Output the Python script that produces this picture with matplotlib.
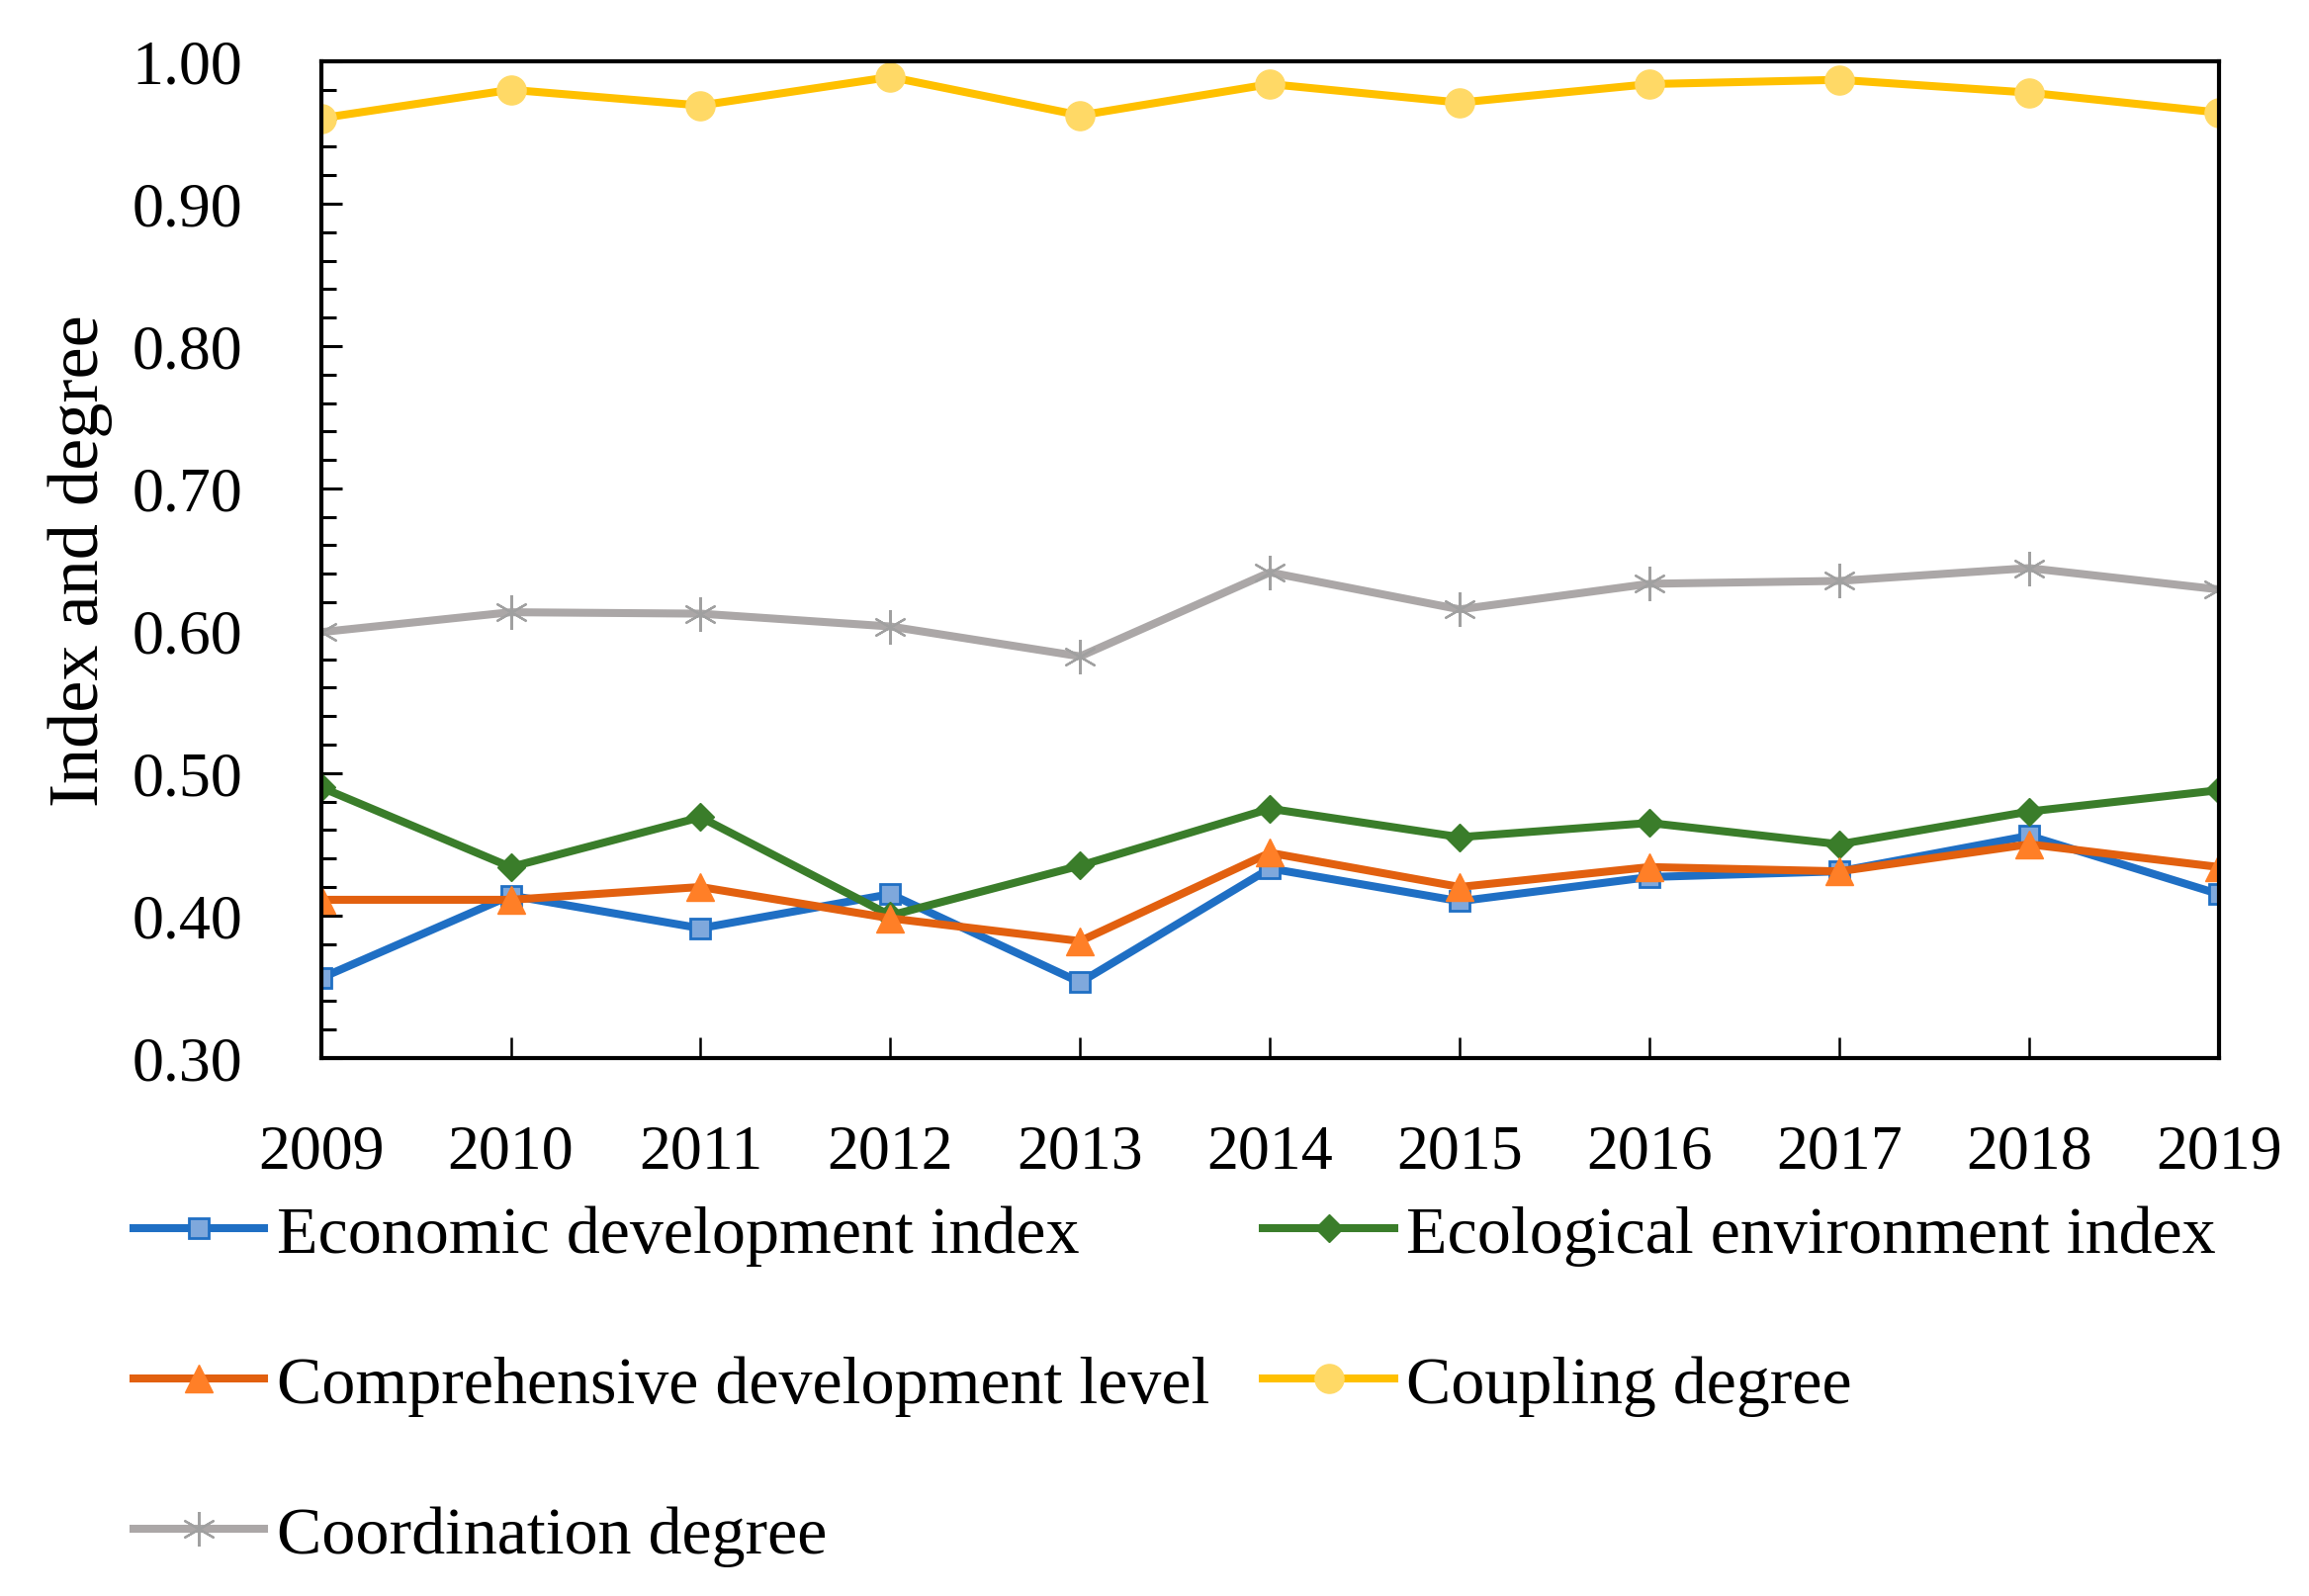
import matplotlib.pyplot as plt
import numpy as np

plt.rcParams['font.family'] = ['Liberation Serif', 'DejaVu Serif']

# Data
years = [2009, 2010, 2011, 2012, 2013, 2014, 2015, 2016, 2017, 2018, 2019]
economic = [0.356, 0.414, 0.391, 0.415, 0.353, 0.433, 0.410, 0.427, 0.431, 0.456, 0.415]
ecological = [0.490, 0.434, 0.469, 0.400, 0.435, 0.475, 0.455, 0.465, 0.450, 0.473, 0.488]
comprehensive = [0.411, 0.411, 0.420, 0.398, 0.382, 0.444, 0.420, 0.434, 0.431, 0.450, 0.434]
coupling = [0.960, 0.980, 0.969, 0.989, 0.962, 0.984, 0.971, 0.984, 0.987, 0.978, 0.964]
coordination = [0.599, 0.613, 0.612, 0.603, 0.582, 0.641, 0.615, 0.633, 0.635, 0.644, 0.629]

fig = plt.figure(figsize=(23.35, 16.15), dpi=100)
ax = fig.add_axes([0.139, 0.337, 0.822, 0.624])

lw = 5.8
l_eco, = ax.plot(years, economic, color='#1f6fc4', lw=lw, marker='s', ms=15,
                 mfc='#7fa8dc', mec='#1f6fc4', mew=2, label='Economic development index')
l_env, = ax.plot(years, ecological, color='#3a7d2a', lw=lw, marker='D', ms=14,
                 mfc='#3a7d2a', mec='#3a7d2a', label='Ecological environment index')
l_com, = ax.plot(years, comprehensive, color='#e2600f', lw=lw, marker='^', ms=20,
                 mfc='#ff7f27', mec='#ff7f27', label='Comprehensive development level')
l_cpl, = ax.plot(years, coupling, color='#ffc000', lw=lw, marker='o', ms=21,
                 mfc='#ffd966', mec='#ffd966', label='Coupling degree')
l_crd, = ax.plot(years, coordination, color='#aba7a7', lw=lw, marker=(6, 2, 0), ms=25,
                 mec='#a0a0a0', mew=1.6, label='Coordination degree')

ax.set_xlim(2009, 2019)
ax.set_ylim(0.30, 1.00)
ax.set_xticks(years)
ax.set_yticks(np.arange(0.30, 1.001, 0.10))
ax.set_yticks(np.arange(0.30, 1.001, 0.02), minor=True)
ax.yaxis.set_major_formatter(plt.FormatStrFormatter('%.2f'))

ax.tick_params(axis='x', direction='in', length=15, width=1.8, labelsize=46, pad=48)
ax.tick_params(axis='y', which='major', direction='in', length=15, width=2.2,
               labelsize=46, pad=57)
ax.tick_params(axis='y', which='minor', direction='in', length=11, width=2.2)
ax.tick_params(axis='x', which='minor', bottom=False)
for s in ax.spines.values():
    s.set_linewidth(3)

ax.set_ylabel('Index and degree', fontsize=52, labelpad=14)

# row-major order: matplotlib fills legend columns first
handles = [l_eco, l_com, l_crd, l_env, l_cpl]
fig.legend(handles=handles, labels=[h.get_label() for h in handles],
           loc='upper left', bbox_to_anchor=(0.046, 0.262), ncol=2, frameon=False,
           fontsize=49, handlelength=1.95, handletextpad=0.18, labelspacing=1.33,
           columnspacing=0.8, borderaxespad=0)

fig.savefig('out.png', dpi=100)
